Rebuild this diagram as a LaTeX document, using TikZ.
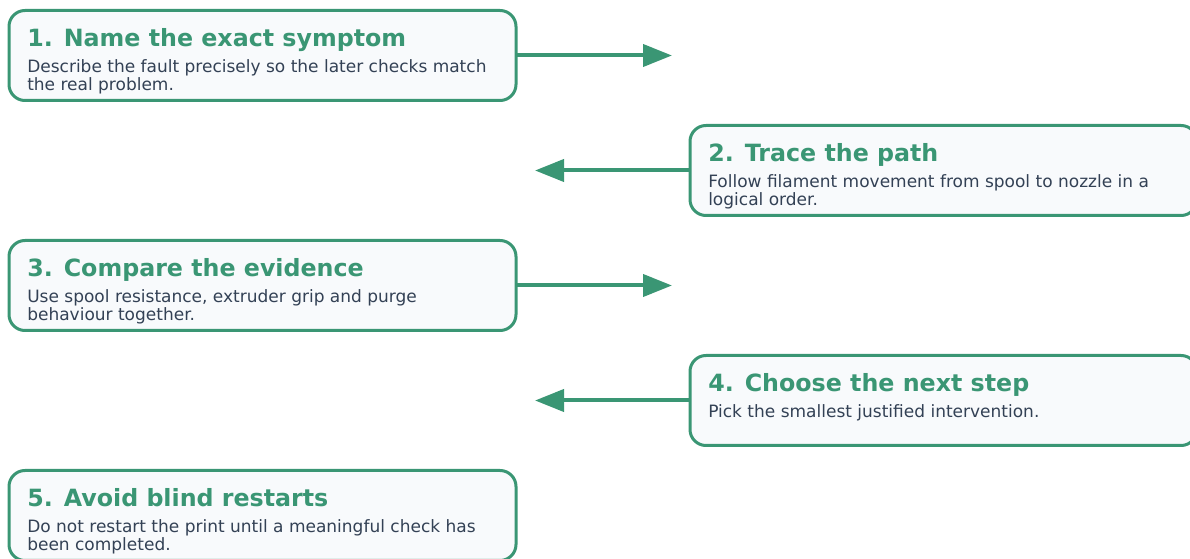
\documentclass[tikz,border=0pt]{standalone}
\usepackage{fontspec}
\setmainfont{DejaVu Sans}
\usetikzlibrary{arrows.meta}
\definecolor{stepgreen}{HTML}{3A9674}
\definecolor{bodytext}{HTML}{334155}
\definecolor{boxfill}{HTML}{F8FAFC}
\begin{document}
\begin{tikzpicture}[x=0.75pt,y=-0.75pt,
  stepbox/.style={draw=stepgreen, fill=boxfill, line width=2.25pt, rounded corners=12pt,
    minimum width=380.25pt, minimum height=67.5pt, anchor=north west, inner sep=0pt, outer sep=0pt},
  steptitle/.style={anchor=base west, inner sep=0pt, text=stepgreen,
    font=\bfseries\fontsize{17.8pt}{20pt}\selectfont},
  stepbody/.style={anchor=base west, inner sep=0pt, text=bodytext, align=left,
    font=\fontsize{12.75pt}{13.5pt}\selectfont},
  flow/.style={draw=stepgreen, line width=3pt, -{Triangle[length=21.75pt,width=16.5pt]}}]
\useasboundingbox (0,0) rectangle (1190,559);
\clip (0,0) rectangle (1190,559);

% boxes
\node[stepbox] (b1) at (9,10.5) {};
\node[stepbox] (b2) at (690,125.5) {};
\node[stepbox] (b3) at (9,240.5) {};
\node[stepbox] (b4) at (690,355.5) {};
\node[stepbox] (b5) at (9,470.5) {};

% texts (base anchor of a two-line body is its last baseline)
\node[steptitle] (t1) at (27,47) {1. Name the exact symptom};
\node[stepbody] (d1) at (27,91) {Describe the fault precisely so the later checks match\\the real problem.};
\node[steptitle] (t2) at (708,162) {2. Trace the path};
\node[stepbody] (d2) at (708,206) {Follow filament movement from spool to nozzle in a\\logical order.};
\node[steptitle] (t3) at (27,277) {3. Compare the evidence};
\node[stepbody] (d3) at (27,321) {Use spool resistance, extruder grip and purge\\behaviour together.};
\node[steptitle] (t4) at (708,392) {4. Choose the next step};
\node[stepbody] (d4) at (708,418) {Pick the smallest justified intervention.};
\node[steptitle] (t5) at (27,507) {5. Avoid blind restarts};
\node[stepbody] (d5) at (27,551) {Do not restart the print until a meaningful check has\\been completed.};

% arrow ends
\coordinate (e1) at (672,55.5);
\coordinate (e2) at (535,170.5);
\coordinate (e3) at (672,285.5);
\coordinate (e4) at (535,400.5);

\draw[flow] (b1.east) -- (e1);
\draw[flow] (b2.west) -- (e2);
\draw[flow] (b3.east) -- (e3);
\draw[flow] (b4.west) -- (e4);
\end{tikzpicture}
\end{document}
